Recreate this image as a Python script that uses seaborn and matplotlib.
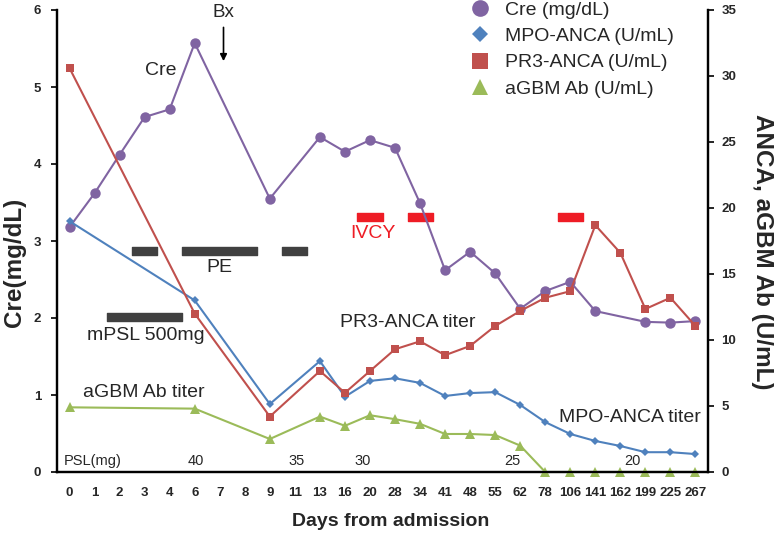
import seaborn as sns
import matplotlib.pyplot as plt
import pandas as pd
import numpy as np
from matplotlib.lines import Line2D

nan = np.nan

# Days from admission (categorical axis)
days = ['0', '1', '2', '3', '4', '6', '7', '8', '9', '11', '13', '16', '20', '28',
        '34', '41', '48', '55', '62', '78', '106', '141', '162', '199', '225', '267']

# Creatinine (mg/dL), left axis
cre = [3.18, 3.62, 4.12, 4.61, 4.71, 5.57, nan, nan, 3.55, nan, 4.35, 4.16, 4.31,
       4.21, 3.49, 2.62, 2.86, 2.58, 2.12, 2.35, 2.47, 2.09, nan, 1.95, 1.94, 1.96]

# Antibody titers (U/mL), right axis
mpo = [19.0, nan, nan, nan, nan, 13.0, nan, nan, 5.15, nan, 8.4, 5.7, 6.9, 7.1,
       6.75, 5.76, 5.98, 6.05, 5.08, 3.78, 2.88, 2.35, 1.97, 1.5, 1.5, 1.36]
pr3 = [30.6, nan, nan, nan, nan, 12.0, nan, nan, 4.2, nan, 7.65, 6.0, 7.65, 9.3,
       9.9, 8.85, 9.55, 11.06, 12.2, 13.2, 13.7, 18.7, 16.6, 12.35, 13.2, 11.06]
agbm = [4.9, nan, nan, nan, nan, 4.8, nan, nan, 2.5, nan, 4.2, 3.5, 4.3, 4.0,
        3.65, 2.88, 2.88, 2.8, 2.0, 0, 0, 0, 0, 0, 0, 0]

# Treatment days
pe_days = [['3'], ['6', '7', '8'], ['11']]
mpsl_days = [['2', '3', '4']]
ivcy_days = [['20'], ['34'], ['106']]

# PSL dose labels
psl_doses = ['40', '35', '30', '25', '20']
psl_pos = [5.03, 9.07, 11.7, 17.7, 22.5]

df = pd.DataFrame({'pos': np.arange(len(days)), 'cre': cre, 'mpo': mpo,
                   'pr3': pr3, 'agbm': agbm})

sns.set_style('white')
plt.rcParams['font.family'] = ['Liberation Sans', 'DejaVu Sans']

fig = plt.figure(figsize=(7.74, 5.35), dpi=100)
ax = fig.add_axes([57 / 774, 63 / 535, 651 / 774, 462 / 535])
ax2 = ax.twinx()

purple = '#8064A2'
blue = '#4F81BD'
red = '#C0504D'
green = '#9BBB59'

d = df.dropna(subset=['cre'])
sns.lineplot(data=d, x='pos', y='cre', ax=ax, color=purple, marker='o',
             markersize=7.5, markeredgewidth=0, linewidth=1.5, clip_on=False)

for col, c, m, ms in [('mpo', blue, 'D', 4.2), ('pr3', red, 's', 5.5),
                      ('agbm', green, '^', 6.5)]:
    d = df.dropna(subset=[col])
    sns.lineplot(data=d, x='pos', y=col, ax=ax2, color=c, marker=m,
                 markersize=ms, markeredgewidth=0, linewidth=1.5, clip_on=False)

# treatment bars
bar_h = 8 / 77
idx = {d_: i for i, d_ in enumerate(days)}
for grp in pe_days:
    a, b = idx[grp[0]], idx[grp[-1]]
    ax.broken_barh([(a - 0.5, b - a + 1)], (2.87 - bar_h / 2, bar_h), color='#404040')
for grp in mpsl_days:
    a, b = idx[grp[0]], idx[grp[-1]]
    ax.broken_barh([(a - 0.5, b - a + 1)], (2.01 - bar_h / 2, bar_h), color='#404040')
for grp in ivcy_days:
    a, b = idx[grp[0]], idx[grp[-1]]
    ax.broken_barh([(a - 0.5, b - a + 1)], (3.31 - bar_h / 2, bar_h), color='#EE1C25')

# text annotations
fs = 14
ax.text(3.63, 5.22, 'Cre', fontsize=fs, ha='center', va='center')
ax.text(6.15, 5.97, 'Bx', fontsize=13.5, ha='center', va='center', clip_on=False)
ax.annotate('', xy=(6.15, 5.30), xytext=(6.15, 5.81),
            arrowprops=dict(arrowstyle='-|>', color='black', lw=1.2,
                            mutation_scale=10))
ax.text(6.0, 2.65, 'PE', fontsize=fs, ha='center', va='center')
ax.text(3.04, 1.77, 'mPSL 500mg', fontsize=fs, ha='center', va='center')
ax.text(2.96, 1.03, 'aGBM Ab titer', fontsize=fs, ha='center', va='center')
ax.text(12.1, 3.10, 'IVCY', fontsize=fs, ha='center', va='center', color='#EE1C25')
ax.text(13.5, 1.94, 'PR3-ANCA titer', fontsize=fs, ha='center', va='center')
ax.text(22.4, 0.71, 'MPO-ANCA titer', fontsize=fs, ha='center', va='center')
ax.text(-0.22, 0.14, 'PSL(mg)', fontsize=10.5, ha='left', va='center')
for p, t in zip(psl_pos, psl_doses):
    ax.text(p, 0.14, t, fontsize=10.5, ha='center', va='center')

# axes
ax.set_xlim(-0.5, len(days) - 0.5)
ax.set_ylim(0, 6)
ax2.set_ylim(0, 35)
ax.set_xticks(df['pos'])
ax.set_xticklabels(days, fontsize=9.5, fontweight='bold')
ax.set_xticks(np.arange(-0.5, len(days), 1.0), minor=True)
ax.tick_params(axis='x', which='major', length=0, pad=11)
ax.tick_params(axis='x', which='minor', length=4, width=1, direction='out', color='black')
ax.set_yticks(range(0, 7))
ax.set_yticklabels([str(v) for v in range(0, 7)], fontsize=9.5, fontweight='bold')
ax.tick_params(axis='y', length=4.5, width=1.2, direction='out', color='black', left=True, pad=7)
ax2.set_yticks(range(0, 36, 5))
ax2.set_yticklabels([str(v) for v in range(0, 36, 5)], fontsize=9.5, fontweight='bold')
ax2.tick_params(axis='y', length=4.5, width=1.2, direction='out', color='black', right=True, pad=5)

for a in (ax, ax2):
    a.spines['top'].set_visible(False)
    for s in ('left', 'right', 'bottom'):
        a.spines[s].set_linewidth(1.6)
        a.spines[s].set_color('black')

ax.set_ylabel('Cre(mg/dL)', fontsize=17.5, fontweight='bold', va='center')
ax.yaxis.set_label_coords(-0.066, 0.4545)
ax2.set_ylabel('ANCA, aGBM Ab (U/mL)', fontsize=17.5, fontweight='bold',
               rotation=270, va='center')
ax2.yaxis.set_label_coords(1.083, 0.476)
ax.set_xlabel('Days from admission', fontsize=14, fontweight='bold', va='center')
ax.xaxis.set_label_coords(0.513, -0.108)

handles = [
    Line2D([], [], linestyle='none', marker='o', markersize=12, color=purple, markeredgewidth=0),
    Line2D([], [], linestyle='none', marker='D', markersize=8, color=blue, markeredgewidth=0),
    Line2D([], [], linestyle='none', marker='s', markersize=11, color=red, markeredgewidth=0),
    Line2D([], [], linestyle='none', marker='^', markersize=11, color=green, markeredgewidth=0),
]
labels = ['Cre (mg/dL)', 'MPO-ANCA (U/mL)', 'PR3-ANCA (U/mL)', 'aGBM Ab (U/mL)']
ax2.legend(handles, labels, loc='upper left', bbox_to_anchor=(468 / 774, 1.0 - 1 / 535),
           bbox_transform=fig.transFigure, frameon=False, fontsize=14,
           handletextpad=0.7, labelspacing=0.45, borderpad=0, borderaxespad=0,
           handlelength=1.2)

fig.savefig('out.png', dpi=100)
plt.close(fig)
